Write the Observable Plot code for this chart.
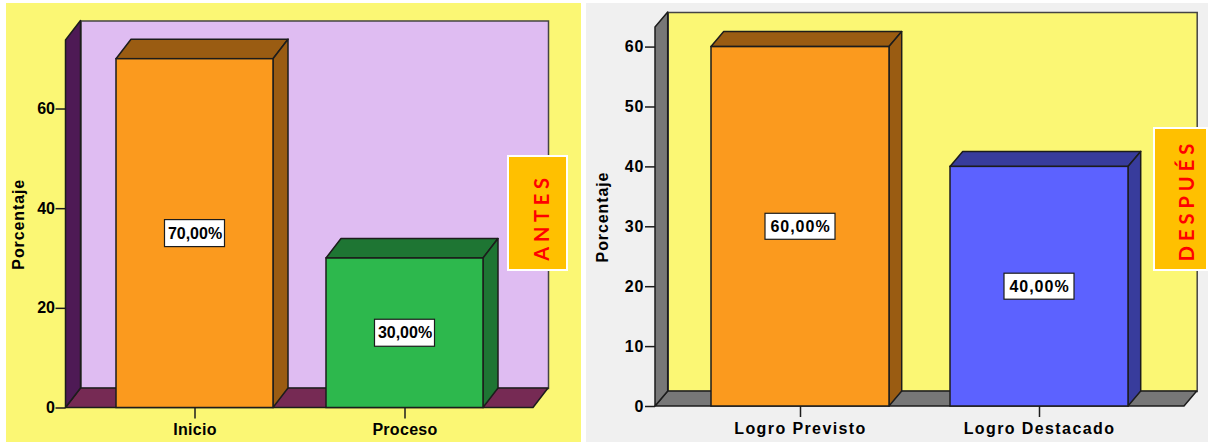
<!DOCTYPE html>
<html>
<head>
<meta charset="utf-8">
<script src="https://cdn.jsdelivr.net/npm/d3@7"></script>
<script src="https://cdn.jsdelivr.net/npm/@observablehq/plot@0.6"></script>
<style>
html,body{margin:0;padding:0;background:#fff;}
#page{position:relative;width:1208px;height:442px;overflow:hidden;font-family:"Liberation Sans",Arial,sans-serif;}
.panel{position:absolute;top:3px;height:439px;}
.panel svg{display:block;font-family:"Liberation Sans",Arial,sans-serif;overflow:visible;}
.badge{position:absolute;box-sizing:border-box;border:2px solid #fff;background:#ffc000;}
.badge span{position:absolute;white-space:nowrap;color:#f00;font:bold 20px "Lato",sans-serif;}
</style>
</head>
<body>
<div id="page"></div>
<script>
const categoriesAntes = ["Inicio", "Proceso"];
const valuesAntes = [70, 30];
const ticksAntes = [0, 20, 40, 60];
const categoriesDespues = ["Logro Previsto", "Logro Destacado"];
const valuesDespues = [60, 40];
const ticksDespues = [0, 10, 20, 30, 40, 50, 60];
const yLabel = "Porcentaje";

const LINE = "#1c1c1c";

function poly(points, fill) {
  const p = document.createElementNS("http://www.w3.org/2000/svg", "path");
  p.setAttribute("d", "M" + points.map(q => q.join(",")).join("L") + "Z");
  p.setAttribute("fill", fill);
  p.setAttribute("stroke", LINE);
  p.setAttribute("stroke-width", 1.5);
  p.setAttribute("stroke-linejoin", "round");
  return p;
}

function panel(o) {
  const data = o.categories.map((c, i) => ({category: c, value: o.values[i], text: o.values[i].toFixed(2).replace(".", ",") + "%"}));
  const g = () => document.createElementNS("http://www.w3.org/2000/svg", "g");

  // floor and side wall of the 3D box
  const shell = (index, s, v, d) => {
    const G = g();
    const l = d.marginLeft, r = d.width - d.marginRight, t = d.marginTop, b = d.height - d.marginBottom;
    G.append(poly([[l, b], [r, b], [r + o.dx, b - o.dy], [l + o.dx, b - o.dy]], o.floor));
    G.append(poly([[l, b], [l + o.dx, b - o.dy], [l + o.dx, t - o.dy], [l, t]], o.side));
    return G;
  };
  // top and right faces of every bar
  const faces = (index, s) => {
    const G = g();
    data.forEach((e, i) => {
      const x0 = s.x(e.category), x1 = x0 + s.x.bandwidth(), y1 = s.y(e.value), y0 = s.y(0);
      G.append(poly([[x0, y1], [x1, y1], [x1 + o.dx, y1 - o.dy], [x0 + o.dx, y1 - o.dy]], o.dark[i]));
      G.append(poly([[x1, y1], [x1 + o.dx, y1 - o.dy], [x1 + o.dx, y0 - o.dy], [x1, y0]], o.dark[i]));
    });
    return G;
  };
  // white plate behind every value label
  const plates = (index, s) => {
    const G = g();
    data.forEach(e => {
      const r = document.createElementNS("http://www.w3.org/2000/svg", "rect");
      r.setAttribute("x", s.x(e.category) + s.x.bandwidth() / 2 - o.plate[0] / 2);
      r.setAttribute("y", s.y(e.value / 2) - o.plate[1] / 2);
      r.setAttribute("width", o.plate[0]);
      r.setAttribute("height", o.plate[1]);
      r.setAttribute("fill", "#fff");
      r.setAttribute("stroke", LINE);
      r.setAttribute("stroke-width", 1.2);
      G.append(r);
    });
    return G;
  };

  const chart = Plot.plot({
    width: o.width, height: 439,
    marginLeft: o.margin[0], marginRight: o.margin[1], marginTop: o.margin[2], marginBottom: o.margin[3],
    style: {background: o.background, fontSize: "16px", fontWeight: "bold", color: "#000"},
    x: {domain: o.categories, paddingInner: o.pi, paddingOuter: o.po, align: 0.5, label: null},
    y: {domain: [0, o.ymax], label: null},
    color: {domain: o.categories, range: o.colors},
    marks: [
      Plot.frame({fill: o.wall, stroke: "#444", strokeWidth: 1.5, dx: o.dx, dy: -o.dy}),
      shell,
      faces,
      Plot.barY(data, {x: "category", y: "value", fill: "category", stroke: LINE, strokeWidth: 1.5}),
      plates,
      Plot.text(data, {x: "category", y: d => d.value / 2, text: "text", fontSize: 16, fontWeight: "bold", fill: "#000"}),
      Plot.axisY(o.ticks, {tickSize: 10, tickPadding: 1, stroke: LINE, strokeWidth: 1.5, label: yLabel, labelAnchor: "center", labelArrow: "none", labelOffset: o.labelOffset, fontSize: 16, fontWeight: "bold", tickFormat: d => d}),
      Plot.axisX({tickSize: 11, tickPadding: 5, stroke: LINE, strokeWidth: 1.5, label: null, fontSize: 16, fontWeight: "bold"})
    ]
  });
  chart.querySelectorAll('[aria-label="x-axis tick label"] text').forEach(t => t.style.letterSpacing = o.spacing + "px");
  chart.querySelectorAll('[aria-label="y-axis tick label"] text').forEach(t => t.style.letterSpacing = o.tickSpacing + "px");
  chart.querySelectorAll('[aria-label="y-axis label"] text').forEach(t => t.style.letterSpacing = "0.9px");
  chart.querySelectorAll('g[aria-label="text"] text').forEach(t => t.style.letterSpacing = o.valueSpacing + "px");
  const div = document.createElement("div");
  div.className = "panel";
  div.style.left = o.left + "px";
  div.style.width = o.width + "px";
  div.append(chart);
  document.getElementById("page").append(div);
}

panel({
  left: 6, width: 575, margin: [59.5, 48, 37, 34.5], ymax: 73.75,
  categories: categoriesAntes, values: valuesAntes, ticks: ticksAntes,
  pi: 0.251, po: 0.237, dx: 15, dy: 19.5, labelOffset: 53, spacing: 0.3, tickSpacing: 0, valueSpacing: 0,
  plate: [60, 27],
  background: "#fbf774", wall: "#dfbcf2", side: "#4e1a55", floor: "#762a54",
  colors: ["#fb9a1e", "#2db84d"], dark: ["#9a5c12", "#1e7533"]
});
panel({
  left: 586, width: 622, margin: [69, 24, 24, 36], ymax: 63.27,
  categories: categoriesDespues, values: valuesDespues, ticks: ticksDespues,
  pi: 0.255, po: 0.234, dx: 12.7, dy: 15, labelOffset: 59, spacing: 1.4, tickSpacing: 1, valueSpacing: 1,
  plate: [70, 26],
  background: "#f0f0f0", wall: "#fbf774", side: "#777777", floor: "#777777",
  colors: ["#fb9a1e", "#5c62ff"], dark: ["#9a5c12", "#383c9c"]
});

function badge(text, left, top, w, h, cx, cy, spacing) {
  const b = document.createElement("div");
  b.className = "badge";
  b.style.cssText = `left:${left}px;top:${top}px;width:${w}px;height:${h}px`;
  const s = document.createElement("span");
  s.textContent = text;
  s.style.cssText = `left:${cx - left - 2}px;top:${cy - top - 2}px;letter-spacing:${spacing}px;transform:translate(-50%,-50%) rotate(-90deg)`;
  b.append(s);
  document.getElementById("page").append(b);
}
badge("ANTES", 507, 155, 61, 115.5, 541, 217, 4.7);
badge("DESPUÉS", 1153, 127, 55, 144, 1186, 199.5, 5);
</script>
</body>
</html>
